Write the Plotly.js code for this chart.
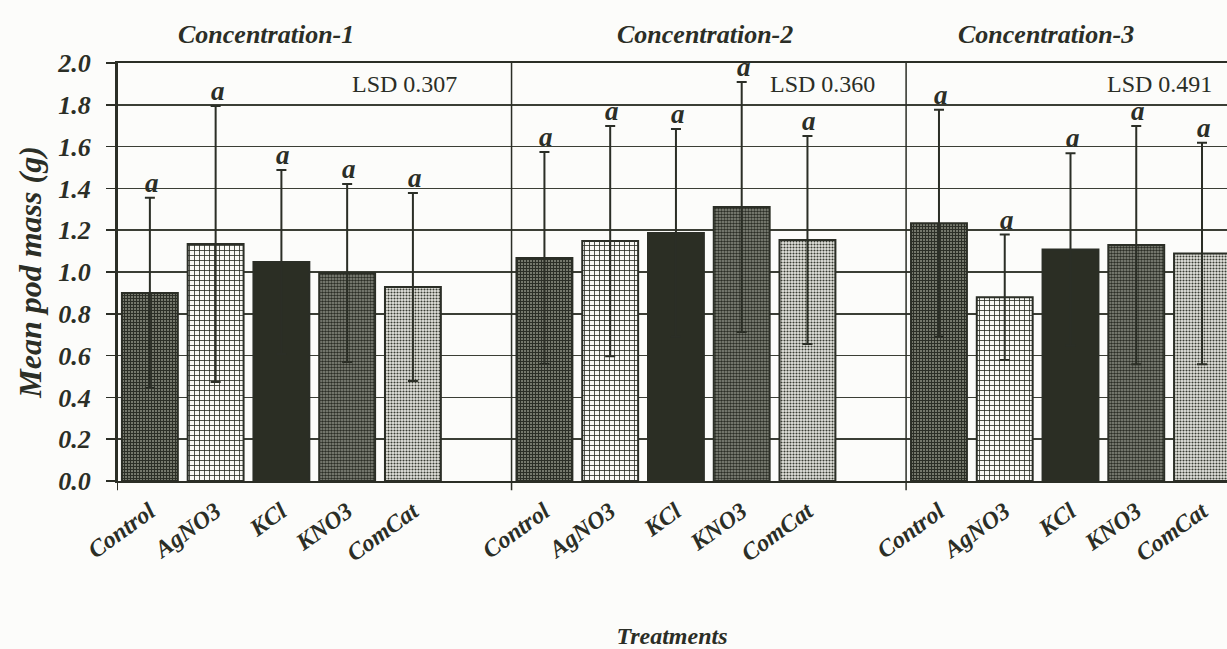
<!DOCTYPE html>
<html>
<head>
<meta charset="utf-8">
<script src="https://cdn.plot.ly/plotly-3.0.1.min.js"></script>
<style>html,body{margin:0;padding:0;background:#fcfcfa;}#chart{width:1227px;height:649px;}</style>
</head>
<body>
<div id="chart"></div>
<script>
// ---- data ----
var treatments = ["Control", "AgNO3", "KCl", "KNO3", "ComCat"];
var concentrations = ["Concentration-1", "Concentration-2", "Concentration-3"];
var lsdLabels = ["LSD 0.307", "LSD 0.360", "LSD 0.491"];
var conc1Mean = [0.90, 1.134, 1.048, 0.995, 0.928];
var conc1Err  = [0.455, 0.660, 0.440, 0.426, 0.450];
var conc2Mean = [1.067, 1.148, 1.187, 1.311, 1.153];
var conc2Err  = [0.507, 0.551, 0.497, 0.598, 0.498];
var conc3Mean = [1.233, 0.879, 1.108, 1.129, 1.089];
var conc3Err  = [0.543, 0.300, 0.460, 0.570, 0.530];
var letters1 = ["a", "a", "a", "a", "a"];
var letters2 = ["a", "a", "a", "a", "a"];
var letters3 = ["a", "a", "a", "a", "a"];
var yTicks = [0, 0.2, 0.4, 0.6, 0.8, 1.0, 1.2, 1.4, 1.6, 1.8, 2.0];

// ---- build ----
var means = [conc1Mean, conc2Mean, conc3Mean];
var errs = [conc1Err, conc2Err, conc3Err];
var letters = [letters1, letters2, letters3];
var slots = treatments.length + 1; // one empty slot after each group

var ink = "#2b2e26";
var serif = '"Liberation Serif", "Times New Roman", Times, serif';
var patterns = [
  {shape: "+", size: 3, solidity: 0.55, fgcolor: "#2b2e26", bgcolor: "#75786c", fillmode: "replace"},
  {shape: "+", size: 5, solidity: 0.3, fgcolor: "#2b2e26", bgcolor: "#f8f8f4", fillmode: "replace"},
  {shape: "", fgcolor: "#2b2e24", bgcolor: "#2b2e24"},
  {shape: ".", size: 3, solidity: 0.55, fgcolor: "#2b2e26", bgcolor: "#8e9086", fillmode: "replace"},
  {shape: ".", size: 3, solidity: 0.4, fgcolor: "#3a3d34", bgcolor: "#e6e6e0", fillmode: "replace"}
];
var solid = ["#5a5d52", "#c8c9c2", "#2b2e24", "#5f6157", "#a9aaa3"];

var traces = [];
var annotations = [];
var tickvals = [], ticktext = [];
treatments.forEach(function (t, ti) {
  var xs = [], ys = [], es = [];
  for (var g = 0; g < concentrations.length; g++) {
    xs.push(g * slots + ti);
    ys.push(means[g][ti]);
    es.push(errs[g][ti]);
  }
  traces.push({
    type: "bar", name: t, x: xs, y: ys, width: 0.85,
    marker: {color: solid[ti], pattern: patterns[ti], line: {color: ink, width: 2}},
    error_y: {type: "data", array: es, visible: true, color: ink, thickness: 2, width: 5},
    hoverinfo: "x+y", showlegend: false
  });
});
for (var g = 0; g < concentrations.length; g++) {
  for (var ti = 0; ti < treatments.length; ti++) {
    var x = g * slots + ti;
    tickvals.push(x);
    ticktext.push(treatments[ti]);
    annotations.push({
      x: x, y: means[g][ti] + errs[g][ti], xref: "x", yref: "y",
      text: letters[g][ti], showarrow: false, yanchor: "middle", yshift: 15, xshift: 2,
      font: {family: serif, size: 27, color: ink, weight: "bold", style: "italic"}
    });
  }
}
// group titles
var titleX = [1.77, 8.44, 13.63];
concentrations.forEach(function (c, g) {
  annotations.push({
    x: titleX[g], y: 1.067, xref: "x", yref: "paper", text: c, showarrow: false,
    xanchor: "center", yanchor: "middle",
    font: {family: serif, size: 26, color: ink, weight: "bold", style: "italic"}
  });
});
// LSD labels
var lsdX = [3.04, 9.4, 14.53];
lsdLabels.forEach(function (l, g) {
  annotations.push({
    x: lsdX[g], y: 1.9, xref: "x", yref: "y", text: l, showarrow: false,
    xanchor: "left", yanchor: "middle",
    font: {family: serif, size: 24, color: ink}
  });
});

// group separators (plus the left edge), each extending below the axis as a tick
var shapes = [];
for (var g = 0; g < concentrations.length; g++) {
  shapes.push({
    type: "line", xref: "x", yref: "paper",
    x0: g * slots - 0.5, x1: g * slots - 0.5, y0: -0.022, y1: 1,
    line: {color: ink, width: g === 0 ? 2 : 1.5}, layer: "above"
  });
}

var layout = {
  width: 1227, height: 649,
  margin: {l: 117, r: 0, t: 63, b: 168},
  paper_bgcolor: "#fcfcfa", plot_bgcolor: "#fcfcfa",
  bargap: 0.15,
  xaxis: {
    type: "linear", range: [-0.5, 16.38], showgrid: false, zeroline: false,
    showline: true, mirror: true, linecolor: ink, linewidth: 2,
    tickmode: "array", tickvals: tickvals, ticktext: ticktext, ticks: "",
    tickangle: -36, ticklabelstandoff: 5,
    tickfont: {family: serif, size: 24, color: ink, weight: "bold", style: "italic"},
    title: {text: "Treatments", standoff: 74,
      font: {family: serif, size: 24, color: ink, weight: "bold", style: "italic"}}
  },
  yaxis: {
    range: [0, 2.0], tickmode: "array", tickvals: yTicks, tickformat: ".1f",
    showgrid: true, gridcolor: "#3b3e35", gridwidth: 1.5, zeroline: false,
    showline: true, linecolor: ink, linewidth: 2,
    ticks: "outside", ticklen: 9, tickwidth: 1.5, tickcolor: ink, ticklabelstandoff: 10,
    tickfont: {family: serif, size: 26, color: ink, weight: "bold", style: "italic"},
    title: {text: "Mean pod mass (g)", standoff: 6,
      font: {family: serif, size: 32, color: ink, weight: "bold", style: "italic"}}
  },
  annotations: annotations,
  shapes: shapes
};

Plotly.newPlot("chart", traces, layout, {displayModeBar: false, staticPlot: true});
</script>
</body>
</html>
